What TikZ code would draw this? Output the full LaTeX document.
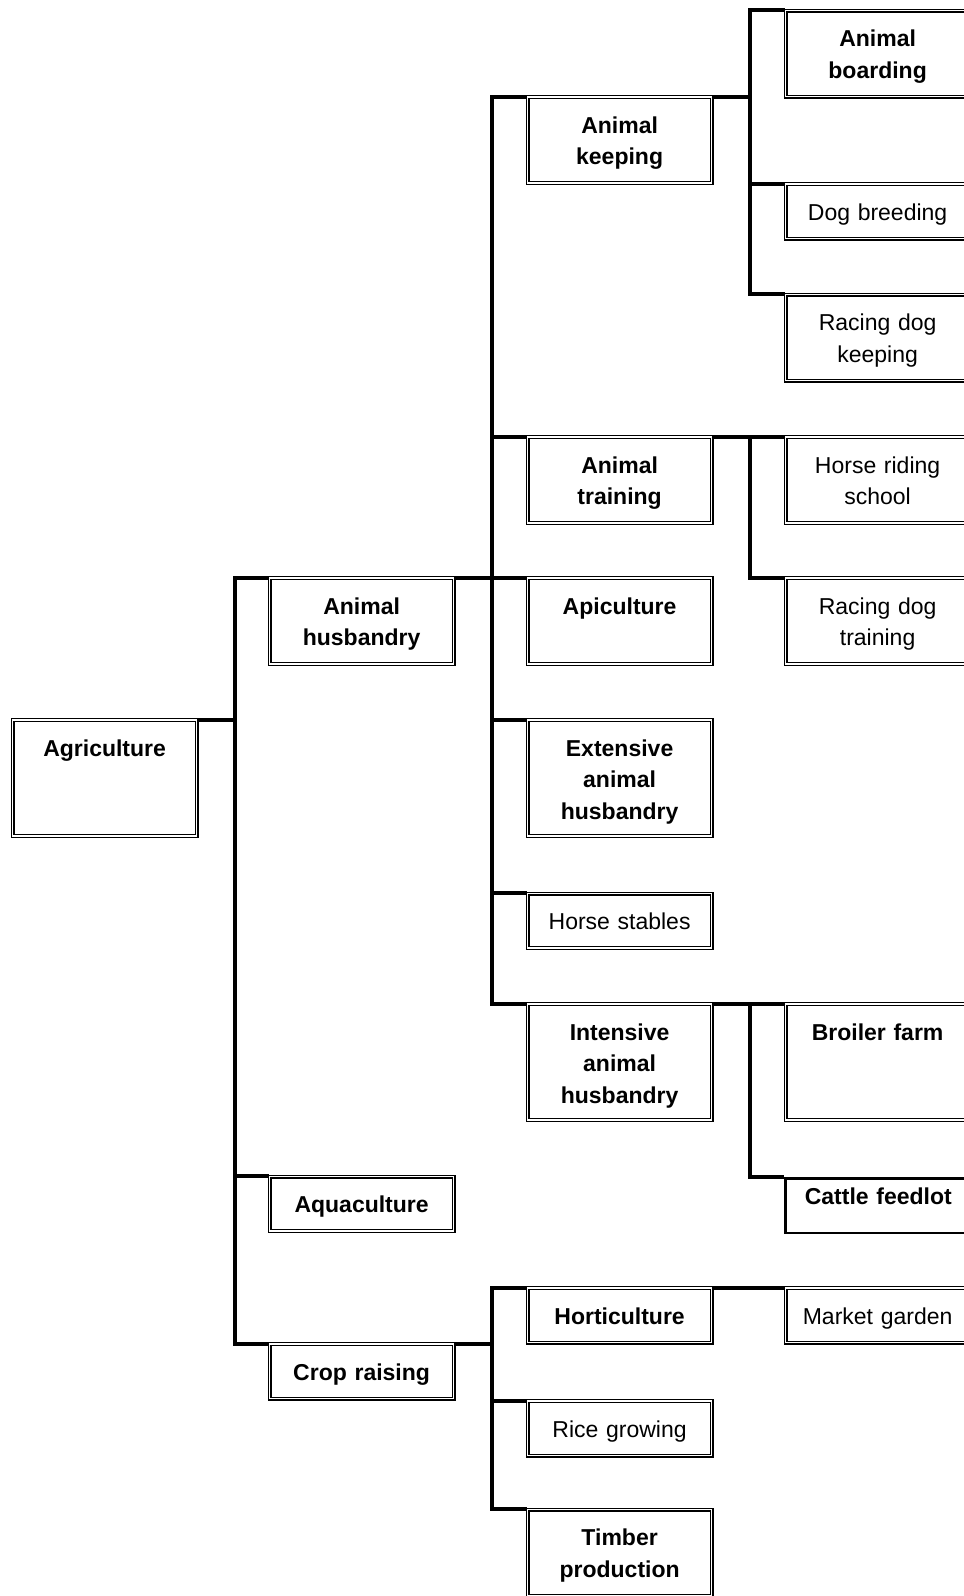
\documentclass[tikz,border=0pt]{standalone}
\usepackage{fontspec}
\setmainfont{Liberation Sans}
\usepackage{tikz}

\begin{document}
\begin{tikzpicture}[x=0.75pt,y=-0.75pt,
    box/.style={draw,double,line width=0.9pt,double distance=1.2pt,anchor=north west,
      inner xsep=2pt,inner ysep=0pt,text width=134pt,align=center,text height=27pt,
      font=\fontsize{17.25pt}{23.7pt}\selectfont},
    boldbox/.style={box,font=\fontsize{17.25pt}{23.7pt}\selectfont\bfseries},
    h1/.style={text depth=13.9pt},
    h2/.style={text depth=37.5pt},
    h3/.style={text depth=60pt},
    link/.style={line width=3pt}]
    \useasboundingbox (0,0) rectangle (964,1596);
    \clip (0,0) rectangle (964,1596);

    \node[boldbox,h3] (agri) at (12,719.5) {Agriculture};

    \node[boldbox,h2] (husb) at (269,577.5) {Animal\\husbandry};
    \node[boldbox,h1] (aqua) at (269,1176) {Aquaculture};
    \node[boldbox,h1] (crop) at (269,1343.5) {Crop raising};

    \node[boldbox,h2] (keep) at (527,96.5) {Animal\\keeping};
    \node[boldbox,h2] (train) at (527,436.5) {Animal\\training};
    \node[boldbox,h2] (api) at (527,577.5) {Apiculture};
    \node[boldbox,h3] (ext) at (527,719.5) {Extensive\\animal\\husbandry};
    \node[box,h1] (stab) at (527,893) {Horse stables};
    \node[boldbox,h3] (inten) at (527,1003.5) {Intensive\\animal\\husbandry};
    \node[boldbox,h1] (hort) at (527,1287.5) {Horticulture};
    \node[box,h1] (rice) at (527,1400.5) {Rice growing};
    \node[boldbox,h2] (timber) at (527,1509) {Timber\\production};

    \node[boldbox,h2] (board) at (785,10) {Animal\\boarding};
    \node[box,h1] (dogb) at (785,183.5) {Dog breeding};
    \node[box,h2] (rdkeep) at (785,294) {Racing dog\\keeping};
    \node[box,h2] (riding) at (785,436.5) {Horse riding\\school};
    \node[box,h2] (rdtrain) at (785,577.5) {Racing dog\\training};
    \node[boldbox,h3] (broil) at (785,1003.5) {Broiler farm};
    \node[draw,line width=2pt,anchor=north west,inner xsep=2pt,inner ysep=0pt,
      text width=135pt,align=center,text height=19.9pt,text depth=21.1pt,
      font=\fontsize{17.25pt}{23.7pt}\selectfont\bfseries] (cattle) at (784.3,1177) {Cattle feedlot};
    \node[box,h1] (market) at (785,1287.5) {Market garden};

    \draw[link] (agri.north east) -- ++(37.5,0) |- (husb.north west);
    \draw[link] (agri.north east) -- ++(37.5,0) |- (aqua.north west);
    \draw[link] (agri.north east) -- ++(37.5,0) |- (crop.north west);

    \draw[link] (husb.north east) -- ++(37.5,0) |- (keep.north west);
    \draw[link] (husb.north east) -- ++(37.5,0) |- (train.north west);
    \draw[link] (husb.north east) -- ++(37.5,0) |- (api.north west);
    \draw[link] (husb.north east) -- ++(37.5,0) |- (ext.north west);
    \draw[link] (husb.north east) -- ++(37.5,0) |- (stab.north west);
    \draw[link] (husb.north east) -- ++(37.5,0) |- (inten.north west);

    \draw[link] (keep.north east) -- ++(37.5,0) |- (board.north west);
    \draw[link] (keep.north east) -- ++(37.5,0) |- (dogb.north west);
    \draw[link] (keep.north east) -- ++(37.5,0) |- (rdkeep.north west);

    \draw[link] (train.north east) -- ++(37.5,0) |- (riding.north west);
    \draw[link] (train.north east) -- ++(37.5,0) |- (rdtrain.north west);

    \draw[link] (inten.north east) -- ++(37.5,0) |- (broil.north west);
    \draw[link] (inten.north east) -- ++(37.5,0) |- (cattle.north west);

    \draw[link] (crop.north east) -- ++(37.5,0) |- (hort.north west);
    \draw[link] (crop.north east) -- ++(37.5,0) |- (rice.north west);
    \draw[link] (crop.north east) -- ++(37.5,0) |- (timber.north west);

    \draw[link] (hort.north east) -- ++(37.5,0) |- (market.north west);
\end{tikzpicture}
\end{document}
